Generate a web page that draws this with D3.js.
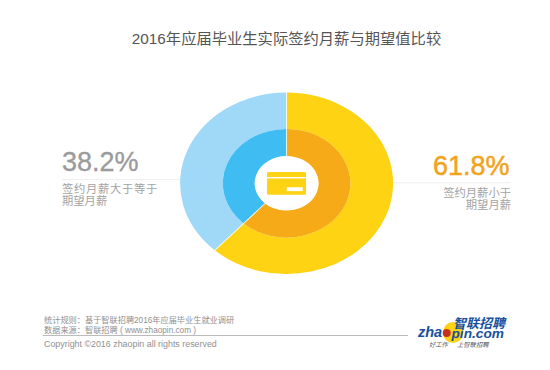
<!DOCTYPE html>
<html>
<head>
    <meta charset="utf-8">
    <title>2016 salary vs expectation</title>
    <script src="https://d3js.org/d3.v7.min.js"></script>
    <style>
        body { margin: 0; background: #fff; }
        text { font-family: "Liberation Sans", "Noto Sans CJK SC", sans-serif; }
    </style>
</head>
<body>
    <svg id="chart"></svg>
    <script>
        const categories = ["签约月薪小于期望月薪", "签约月薪大于等于期望月薪"];
        const shares = [61.8, 38.2];
        const outerColors = ["#fdd314", "#a0d8f7"];
        const innerColors = ["#f6aa18", "#3fbcf1"];
        const shareLabels = ["61.8%", "38.2%"];
        const captionsRight = ["签约月薪小于", "期望月薪"];
        const captionsLeft = ["签约月薪大于等于", "期望月薪"];
        const footerLines = ["统计规则\uFF1A基于智联招聘2016年应届毕业生就业调研", "数据来源\uFF1A智联招聘 ( www.zhaopin.com )"];

        const width = 550, height = 370;
        const svg = d3.select("#chart")
            .attr("width", width)
            .attr("height", height)
            .style("display", "block");

        svg.append("text")
            .attr("x", 286.5)
            .attr("y", 44)
            .attr("text-anchor", "middle")
            .attr("font-size", 15.3)
            .attr("fill", "#555")
            .text("2016年应届毕业生实际签约月薪与期望值比较");

        // leader lines go under the donut
        svg.append("line").attr("x1", 62).attr("x2", 182).attr("y1", 179.7).attr("y2", 179.7)
            .attr("stroke", "#eee").attr("stroke-width", 1);
        svg.append("line").attr("x1", 390).attr("x2", 511).attr("y1", 182.8).attr("y2", 182.8)
            .attr("stroke", "#eee").attr("stroke-width", 1);

        // the donut is squashed vertically in the original
        const donut = svg.append("g")
            .attr("transform", "translate(286.6,183.3) scale(1,0.852)");

        const pie = d3.pie().sort(null).padAngle(0.008);
        const arcs = pie(shares);

        const outerArc = d3.arc().innerRadius(63.8).outerRadius(106.5).padRadius(106.5);
        const innerArc = d3.arc().innerRadius(32).outerRadius(63.8).padRadius(106.5);

        donut.selectAll(".outer")
            .data(arcs)
            .enter()
            .append("path")
            .attr("class", "outer")
            .attr("d", outerArc)
            .attr("fill", (d, i) => outerColors[i]);

        donut.selectAll(".inner")
            .data(arcs)
            .enter()
            .append("path")
            .attr("class", "inner")
            .attr("d", innerArc)
            .attr("fill", (d, i) => innerColors[i]);

        // card icon
        const icon = svg.append("g").attr("transform", "translate(267,172)");
        icon.append("rect").attr("width", 39).attr("height", 22.7).attr("rx", 1.5).attr("fill", "#fdd314");
        icon.append("rect").attr("y", 5).attr("width", 39).attr("height", 1.4).attr("fill", "#fff");
        icon.append("rect").attr("x", 19.7).attr("y", 15.3).attr("width", 16).attr("height", 3.8).attr("fill", "#fff");

        // share labels
        svg.append("text").attr("x", 62).attr("y", 171)
            .attr("font-size", 27).attr("fill", "#9b9b9b")
            .attr("stroke", "#9b9b9b").attr("stroke-width", 0.35).text(shareLabels[1]);
        svg.append("text").attr("x", 509.5).attr("y", 175).attr("text-anchor", "end")
            .attr("font-size", 27).attr("fill", "#f2a31c")
            .attr("stroke", "#f2a31c").attr("stroke-width", 0.5).text(shareLabels[0]);

        svg.selectAll(".cap-left")
            .data(captionsLeft)
            .enter()
            .append("text")
            .attr("class", "cap-left")
            .attr("x", 62)
            .attr("y", (d, i) => 192.5 + i * 12)
            .attr("font-size", 11.3)
            .attr("letter-spacing", (d, i) => i === 0 ? 0.7 : 0)
            .attr("fill", "#a3a3a3")
            .text(d => d);

        svg.selectAll(".cap-right")
            .data(captionsRight)
            .enter()
            .append("text")
            .attr("class", "cap-right")
            .attr("x", 511)
            .attr("y", (d, i) => 196.7 + i * 12)
            .attr("text-anchor", "end")
            .attr("font-size", 11.3)
            .attr("fill", "#a3a3a3")
            .text(d => d);

        // footer
        svg.selectAll(".foot")
            .data(footerLines)
            .enter()
            .append("text")
            .attr("class", "foot")
            .attr("x", 44)
            .attr("y", (d, i) => 323 + i * 10)
            .attr("font-size", 8.2)
            .attr("fill", "#909090")
            .text(d => d);

        svg.append("line").attr("x1", 43).attr("x2", 408).attr("y1", 335.5).attr("y2", 335.5)
            .attr("stroke", "#aaa").attr("stroke-width", 0.8);

        svg.append("text").attr("x", 44).attr("y", 347)
            .attr("font-size", 8.9).attr("fill", "#909090")
            .text("Copyright ©2016 zhaopin all rights reserved");

        // logo
        const logo = svg.append("g");
        logo.append("ellipse").attr("cx", 453).attr("cy", 332.5).attr("rx", 10).attr("ry", 10.5).attr("fill", "#fdd314");
        logo.append("circle").attr("cx", 446.7).attr("cy", 333).attr("r", 4).attr("fill", "#c8301e");
        logo.append("text").attr("x", 418).attr("y", 337)
            .attr("font-size", 14.5).attr("font-weight", "bold").attr("font-style", "italic").attr("fill", "#17509c").text("zha");
        logo.append("text").attr("x", 451.5).attr("y", 337.5)
            .attr("font-size", 13.7).attr("font-weight", "bold").attr("font-style", "italic").attr("fill", "#17509c").text("pin.com");
        logo.append("text").attr("x", 453).attr("y", 327.5)
            .attr("font-size", 13).attr("font-weight", "bold").attr("font-style", "italic").attr("fill", "#17509c").text("智联招聘");
        logo.append("text").attr("x", 429).attr("y", 347)
            .attr("font-size", 6.3).attr("font-style", "italic").attr("fill", "#555").text("好工作");
        logo.append("text").attr("x", 457).attr("y", 347)
            .attr("font-size", 6.3).attr("font-style", "italic").attr("fill", "#555").text("上智联招聘");
    </script>
</body>
</html>
